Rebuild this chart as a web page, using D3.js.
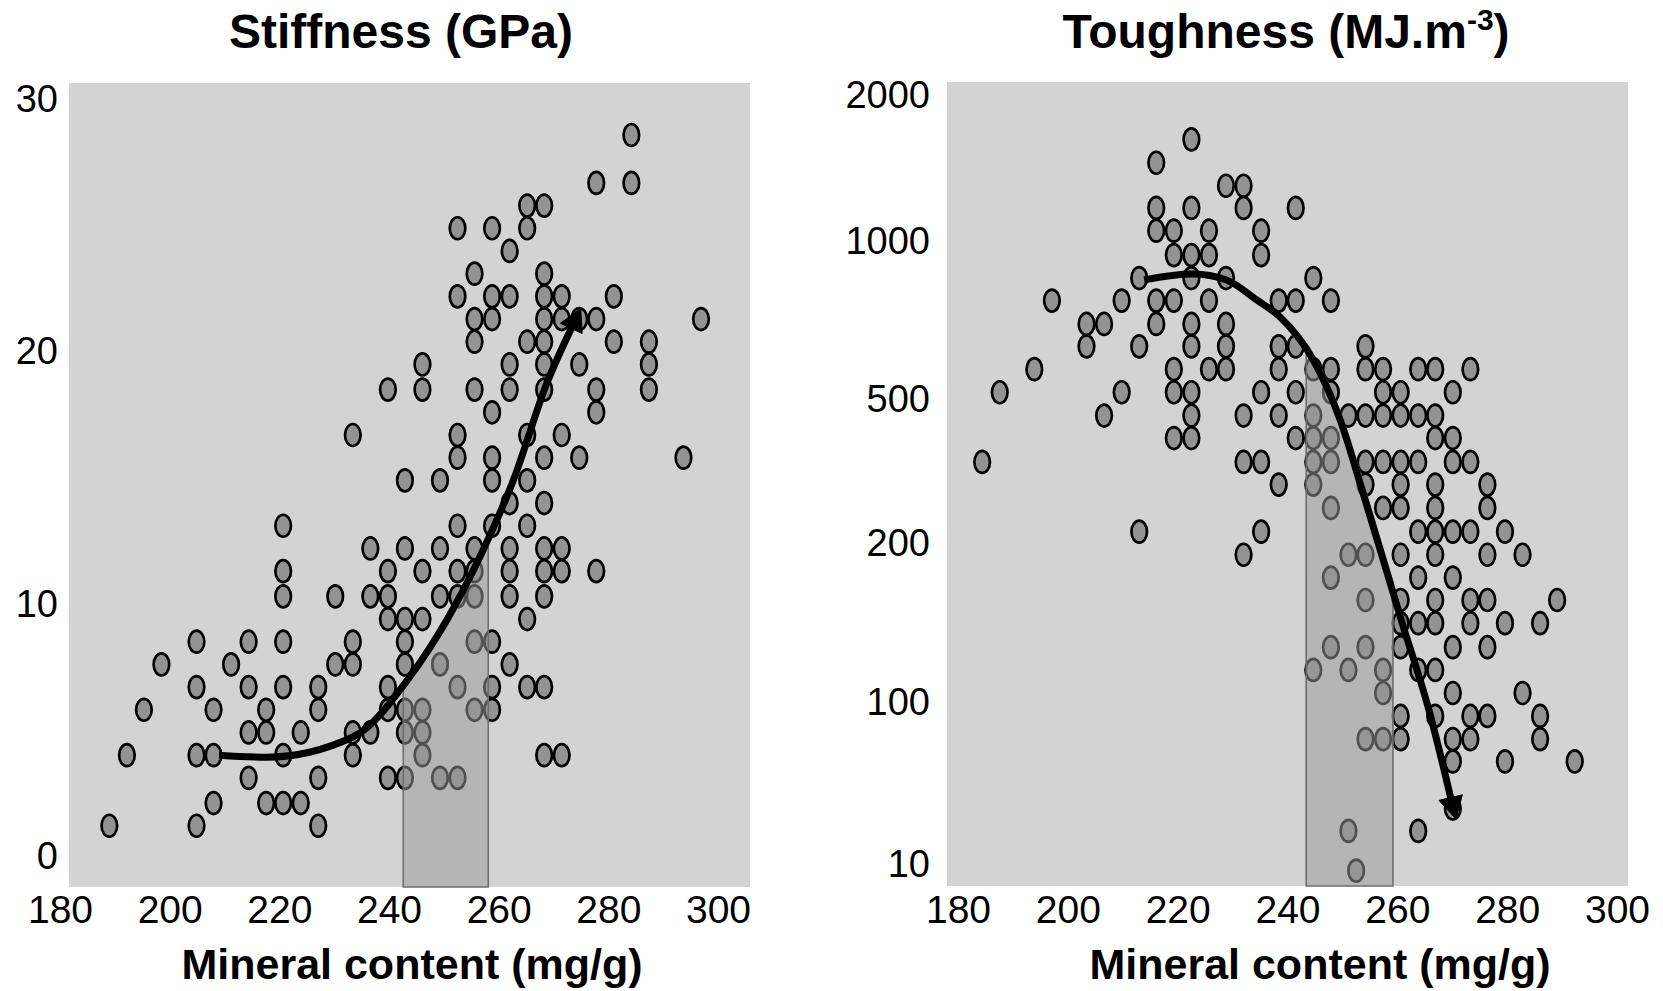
<!DOCTYPE html>
<html>
<head>
<meta charset="utf-8">
<script src="https://cdn.jsdelivr.net/npm/d3@7"></script>
<style>
body { margin: 0; background: #fff; }
text { font-family: "Liberation Sans", Arial, sans-serif; }
</style>
</head>
<body>
<div class="chart"></div>
<script>
var svgWidth = 1663;
var svgHeight = 991;

// tick labels
var xTicks = [180, 200, 220, 240, 260, 280, 300];
var stiffTicks = [0, 10, 20, 30];
var toughTicks = [10, 100, 200, 500, 1000, 2000];

// Stiffness panel: mineral content (mg/g), one line per stiffness level
var stiffMineral = [
    189.0, 204.9, 227.1,
    208.0, 217.6, 220.7, 223.9,
    214.4, 227.1, 239.8, 242.9, 249.3, 252.5,
    192.2, 204.9, 208.0, 220.7, 233.4, 246.1, 268.3, 271.5,
    214.4, 217.6, 223.9, 233.4, 236.6, 242.9, 246.1,
    195.3, 208.0, 217.6, 227.1, 239.8, 242.9, 246.1, 255.6, 258.8,
    204.9, 214.4, 220.7, 227.1, 239.8, 252.5, 258.8, 265.2, 268.3,
    198.5, 211.2, 230.2, 233.4, 242.9, 249.3, 262.0,
    204.9, 214.4, 220.7, 233.4, 242.9, 255.6, 258.8,
    239.8, 242.9, 246.1, 265.2,
    220.7, 230.2, 236.6, 239.8, 249.3, 252.5, 255.6, 262.0, 268.3,
    220.7, 239.8, 246.1, 252.5, 255.6, 262.0, 268.3, 271.5, 277.8,
    236.6, 242.9, 249.3, 255.6, 262.0, 268.3, 271.5,
    220.7, 252.5, 258.8, 265.2,
    262.0, 268.3,
    242.9, 249.3, 258.8, 265.2,
    252.5, 258.8, 268.3, 274.7, 293.7,
    233.4, 252.5, 265.2, 271.5,
    258.8, 277.8,
    239.8, 246.1, 255.6, 262.0, 268.3, 277.8, 287.4,
    246.1, 262.0, 268.3, 274.7, 287.4,
    255.6, 265.2, 268.3, 281.0, 287.4,
    255.6, 258.8, 268.3, 271.5, 274.7, 277.8, 296.9,
    252.5, 258.8, 262.0, 268.3, 271.5, 281.0,
    255.6, 268.3,
    262.0,
    252.5, 258.8, 265.2,
    265.2, 268.3,
    277.8, 284.2,
    284.2
];
var stiffGPa = [
    1.2, 1.2, 1.2,
    2.1, 2.1, 2.1, 2.1,
    3.1, 3.1, 3.1, 3.1, 3.1, 3.1,
    4.0, 4.0, 4.0, 4.0, 4.0, 4.0, 4.0, 4.0,
    4.9, 4.9, 4.9, 4.9, 4.9, 4.9, 4.9,
    5.8, 5.8, 5.8, 5.8, 5.8, 5.8, 5.8, 5.8, 5.8,
    6.7, 6.7, 6.7, 6.7, 6.7, 6.7, 6.7, 6.7, 6.7,
    7.6, 7.6, 7.6, 7.6, 7.6, 7.6, 7.6,
    8.5, 8.5, 8.5, 8.5, 8.5, 8.5, 8.5,
    9.4, 9.4, 9.4, 9.4,
    10.3, 10.3, 10.3, 10.3, 10.3, 10.3, 10.3, 10.3, 10.3,
    11.3, 11.3, 11.3, 11.3, 11.3, 11.3, 11.3, 11.3, 11.3,
    12.2, 12.2, 12.2, 12.2, 12.2, 12.2, 12.2,
    13.1, 13.1, 13.1, 13.1,
    14.0, 14.0,
    14.9, 14.9, 14.9, 14.9,
    15.8, 15.8, 15.8, 15.8, 15.8,
    16.7, 16.7, 16.7, 16.7,
    17.6, 17.6,
    18.5, 18.5, 18.5, 18.5, 18.5, 18.5, 18.5,
    19.5, 19.5, 19.5, 19.5, 19.5,
    20.4, 20.4, 20.4, 20.4, 20.4,
    21.3, 21.3, 21.3, 21.3, 21.3, 21.3, 21.3,
    22.2, 22.2, 22.2, 22.2, 22.2, 22.2,
    23.1, 23.1,
    24.0,
    24.9, 24.9, 24.9,
    25.8, 25.8,
    26.7, 26.7,
    28.6
];

// Toughness panel: mineral content (mg/g), one line per toughness level
var toughMineral = [
    222.5,
    216.1,
    228.8, 232.0,
    216.1, 222.5, 232.0, 241.5,
    216.1, 219.3, 225.7, 235.2,
    219.3, 222.5, 225.7, 235.2,
    213.0, 222.5, 228.8, 244.7,
    197.1, 209.8, 216.1, 219.3, 225.7, 238.4, 241.5, 247.9,
    203.4, 206.6, 216.1, 222.5, 228.8,
    203.4, 213.0, 222.5, 228.8, 238.4, 241.5, 254.2,
    193.9, 219.3, 225.7, 228.8, 238.4, 244.7, 247.9, 254.2, 257.4, 263.8, 266.9, 273.3,
    187.6, 209.8, 219.3, 222.5, 235.2, 241.5, 247.9, 257.4, 260.6, 270.1,
    206.6, 222.5, 232.0, 238.4, 244.7, 251.1, 254.2, 257.4, 260.6, 263.8, 266.9,
    219.3, 222.5, 241.5, 244.7, 247.9, 266.9, 270.1,
    184.4, 232.0, 235.2, 244.7, 247.9, 254.2, 257.4, 260.6, 263.8, 270.1, 273.3,
    238.4, 244.7, 254.2, 260.6, 266.9, 276.4,
    247.9, 257.4, 260.6, 266.9, 276.4,
    213.0, 235.2, 263.8, 266.9, 270.1, 273.3, 279.6,
    232.0, 251.1, 254.2, 260.6, 266.9, 276.4, 282.8,
    247.9, 263.8, 270.1,
    254.2, 260.6, 266.9, 273.3, 276.4, 289.1,
    260.6, 263.8, 266.9, 273.3, 279.6, 286.0,
    247.9, 254.2, 260.6, 270.1, 276.4,
    244.7, 251.1, 257.4, 263.8, 266.9,
    257.4, 270.1, 282.8,
    260.6, 266.9, 273.3, 276.4, 286.0,
    254.2, 257.4, 260.6, 270.1, 273.3, 286.0,
    270.1, 279.6, 292.3,
    270.1,
    251.1, 263.8,
    252.5
];
var toughMJ = [
    1620,
    1450,
    1300, 1300,
    1170, 1170, 1170, 1170,
    1050, 1050, 1050, 1050,
    940, 940, 940, 940,
    850, 850, 850, 850,
    770, 770, 770, 770, 770, 770, 770, 770,
    695, 695, 695, 695, 695,
    630, 630, 630, 630, 630, 630, 630,
    570, 570, 570, 570, 570, 570, 570, 570, 570, 570, 570, 570,
    515, 515, 515, 515, 515, 515, 515, 515, 515, 515,
    450, 450, 450, 450, 450, 450, 450, 450, 450, 450, 450,
    390, 390, 390, 390, 390, 390, 390,
    335, 335, 335, 335, 335, 335, 335, 335, 335, 335, 335,
    290, 290, 290, 290, 290, 290,
    250, 250, 250, 250, 250,
    215, 215, 215, 215, 215, 215, 215,
    190, 190, 190, 190, 190, 190, 190,
    172, 172, 172,
    156, 156, 156, 156, 156, 156,
    141, 141, 141, 141, 141, 141,
    127, 127, 127, 127, 127,
    115, 115, 115, 115, 115,
    104, 104, 104,
    82, 82, 82, 82, 82,
    59, 59, 59, 59, 59, 59,
    43, 43, 43,
    22,
    16, 16,
    9.1
];

// trend curves (arrows)
var stiffCurveX = [209.0, 217.7, 233.5, 243.8, 256.6, 262.7, 268.8, 273.4];
var stiffCurveY = [4.0, 3.92, 4.73, 7.11, 11.88, 14.92, 18.76, 21.0];
var toughCurveX = [213.9, 222.8, 228.9, 234.4, 238.6, 244.7, 249.6, 253.6, 260.8, 265.9, 269.8];
var toughCurveY = [843, 865, 843, 772, 717, 593, 437, 280, 142, 85.5, 25];

// shaded mineral-content band
var stiffBand = [242.6, 258.1];
var toughBand = [243.4, 259.2];

var svg = d3.select(".chart")
    .append("svg")
    .attr("width", svgWidth)
    .attr("height", svgHeight);

function drawPanel(cfg) {
    var g = svg.append("g");
    var plot = cfg.plot;

    g.append("rect")
        .attr("x", plot.x).attr("y", plot.y)
        .attr("width", plot.w).attr("height", plot.h)
        .attr("fill", "#d3d3d3");

    // points
    g.selectAll("ellipse")
        .data(cfg.xs)
        .enter()
        .append("ellipse")
        .attr("cx", d => cfg.x(d))
        .attr("cy", (d, i) => cfg.y(cfg.ys[i]))
        .attr("rx", 7.8)
        .attr("ry", 11)
        .attr("fill", "#939393")
        .attr("stroke", "#000")
        .attr("stroke-width", 2.7);

    // trend line
    var line = d3.line()
        .x(d => cfg.x(d[0]))
        .y(d => cfg.y(d[1]))
        .curve(d3.curveMonotoneX);
    var pts = cfg.curveX.map((v, i) => [v, cfg.curveY[i]]);
    var path = g.append("path")
        .attr("d", line(pts))
        .attr("fill", "none")
        .attr("stroke", "#000")
        .attr("stroke-width", 7);

    // arrow head at the end of the line (direction from the last stretch of the curve)
    var node = path.node();
    var L = node.getTotalLength();
    var pEnd = node.getPointAtLength(L);
    var pPrev = node.getPointAtLength(Math.max(0, L - 22));
    var dx = pEnd.x - pPrev.x, dy = pEnd.y - pPrev.y;
    var len = Math.sqrt(dx * dx + dy * dy);
    var ux = dx / len, uy = dy / len;
    var half = 12, ahead = 20;
    var head = [
        [pEnd.x - ux * 2 - uy * half, pEnd.y - uy * 2 + ux * half],
        [pEnd.x + ux * ahead, pEnd.y + uy * ahead],
        [pEnd.x - ux * 2 + uy * half, pEnd.y - uy * 2 - ux * half]
    ];
    g.append("path")
        .attr("d", "M" + head.map(d => d.join(",")).join("L") + "Z")
        .attr("fill", "#000")
        .attr("stroke", "#000")
        .attr("stroke-width", 1)
        .attr("stroke-linejoin", "miter");

    // shaded band under the curve
    var x0 = cfg.x(cfg.band[0]), x1 = cfg.x(cfg.band[1]);
    var top = [];
    for (var s = 0; s <= L; s += 0.5) {
        var p = node.getPointAtLength(s);
        if (p.x >= x0 - 3 && p.x <= x1 - 3) top.push([p.x + 3, p.y]);
    }
    top.sort((a, b) => a[0] - b[0]);
    var bottom = plot.y + plot.h;
    var poly = [[x0, bottom], [x0, top[0][1]]]
        .concat(top, [[x1, top[top.length - 1][1]], [x1, bottom]]);
    g.insert("path", () => node)
        .attr("d", "M" + poly.map(d => d.join(",")).join("L") + "Z")
        .attr("fill", "rgb(154,154,154)")
        .attr("fill-opacity", 0.52)
        .attr("stroke", "#6e6e6e")
        .attr("stroke-width", 1.6);

    // axes
    var bottomAxis = d3.axisBottom(cfg.x).tickValues(xTicks).tickSize(0).tickPadding(0);
    var xg = g.append("g")
        .attr("transform", "translate(0, 895)")
        .call(bottomAxis);
    xg.select(".domain").remove();
    xg.attr("font-family", "Liberation Sans, Arial, sans-serif").attr("font-size", 39);
    xg.selectAll("text").attr("fill", "#000");

    var leftAxis = d3.axisLeft(cfg.y).tickValues(cfg.yTicks).tickSize(0).tickPadding(0)
        .tickFormat(d3.format("d"));
    var yg = g.append("g")
        .attr("transform", `translate(${cfg.yLabelX}, 0)`)
        .call(leftAxis);
    yg.select(".domain").remove();
    yg.attr("font-family", "Liberation Sans, Arial, sans-serif").attr("font-size", 38);
    yg.selectAll("text").attr("fill", "#000");

    // axis title
    g.append("text")
        .attr("x", cfg.xTitleX)
        .attr("y", 979)
        .attr("text-anchor", "middle")
        .attr("font-size", 43)
        .attr("font-weight", "bold")
        .text("Mineral content (mg/g)");

    return g;
}

var stiffX = d3.scaleLinear().domain([180, 300]).range([60, 718]);
var stiffY = d3.scaleLinear().domain([0, 30]).range([856, 99.7]);
var toughX = d3.scaleLinear().domain([180, 300]).range([958, 1617]);
var toughY = d3.scaleLog().domain(toughTicks).range([864, 702, 543, 399, 241, 95]);

drawPanel({
    plot: { x: 69, y: 83, w: 681, h: 804 },
    x: stiffX, y: stiffY,
    xs: stiffMineral, ys: stiffGPa,
    curveX: stiffCurveX, curveY: stiffCurveY,
    band: stiffBand,
    yTicks: stiffTicks, yLabelX: 58,
    xTitleX: 412
});

drawPanel({
    plot: { x: 947, y: 82, w: 681, h: 804 },
    x: toughX, y: toughY,
    xs: toughMineral, ys: toughMJ,
    curveX: toughCurveX, curveY: toughCurveY,
    band: toughBand,
    yTicks: toughTicks, yLabelX: 930,
    xTitleX: 1320
});

// panel titles
svg.append("text")
    .attr("x", 401)
    .attr("y", 48)
    .attr("text-anchor", "middle")
    .attr("font-size", 48)
    .attr("font-weight", "bold")
    .text("Stiffness (GPa)");

var t2 = svg.append("text")
    .attr("x", 1286)
    .attr("y", 48)
    .attr("text-anchor", "middle")
    .attr("font-size", 48)
    .attr("font-weight", "bold");
t2.append("tspan").text("Toughness (MJ.m");
t2.append("tspan").attr("font-size", 30).attr("dy", -18).text("-3");
t2.append("tspan").attr("dy", 18).text(")");
</script>
</body>
</html>
